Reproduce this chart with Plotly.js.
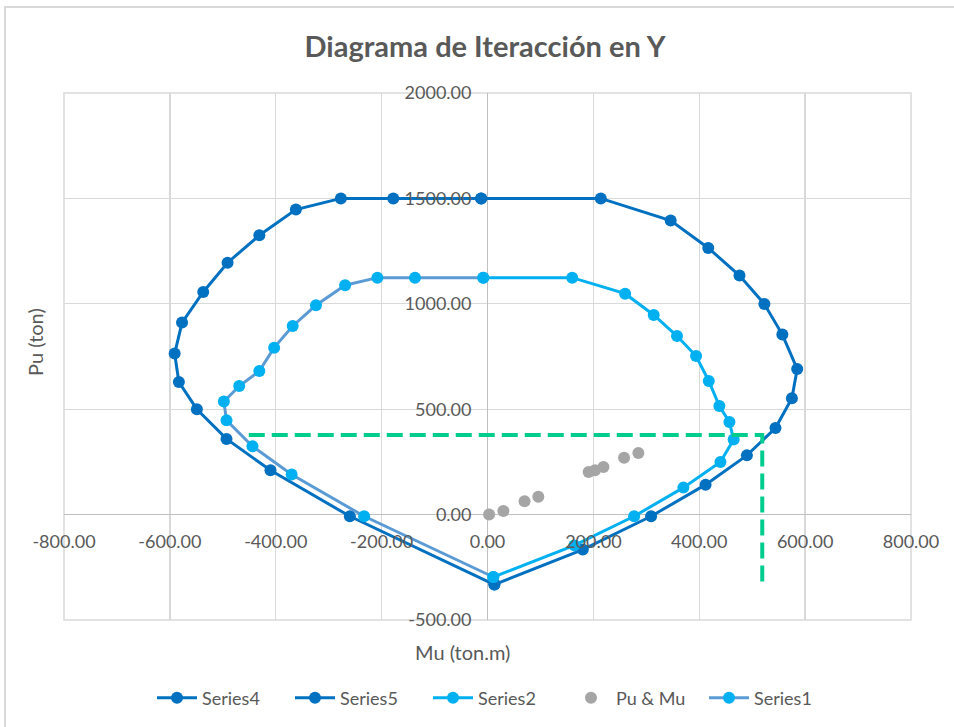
<!DOCTYPE html>
<html>
<head>
<meta charset="utf-8">
<script src="https://cdn.plot.ly/plotly-3.0.1.min.js"></script>
<style>html,body{margin:0;padding:0;background:#fff;}#chart{width:954px;height:727px;}</style>
</head>
<body>
<div id="chart"></div>
<script>
// Outer curve, right half (Series4)
const series4M = [-12, 214, 346, 417, 476, 523, 557, 585, 575, 544, 490, 412, 309, 180, 13];
const series4P = [1500, 1500, 1395, 1265, 1134, 999, 854, 691, 552, 411, 281, 142, -8, -166, -332];
// Outer curve, left half (Series5)
const series5M = [-12, -178, -277, -362, -431, -491, -537, -577, -591, -583, -549, -493, -410, -260, 13];
const series5P = [1500, 1500, 1500, 1447, 1325, 1195, 1056, 911, 764, 629, 500, 359, 210, -8, -332];
// Inner curve, right half (Series2)
const series2M = [-8, 160, 260, 314, 358, 394, 418, 438, 457, 465, 440, 370, 277, 164, 11];
const series2P = [1124, 1124, 1048, 947, 847, 752, 634, 515, 439, 356, 250, 128, -8, -146, -296];
// Inner curve, left half (Series1)
const series1M = [-8, -137, -208, -269, -324, -368, -403, -431, -469, -498, -493, -444, -370, -233, 11];
const series1P = [1124, 1124, 1124, 1088, 993, 895, 792, 681, 610, 536, 447, 324, 190, -8, -296];
// Demand points (Pu & Mu)
const demandM = [3, 30, 70, 96, 191, 203, 219, 258, 285];
const demandP = [0, 17, 63, 85, 202, 210, 226, 270, 292];
// Green guide lines
const guideM = [-451, 519, 519];
const guideP = [378, 378, -343];

const xTicks = [-800, -600, -400, -200, 0, 200, 400, 600, 800];
const yTicks = [-500, 0, 500, 1000, 1500, 2000];

const dark = '#0070C0', cyan = '#00B0F0', steel = '#5B9BD5', gray = '#A5A5A5', green = '#00CC8E';
const txt = '#595959';
const FONT = 'Lato, "Open Sans", sans-serif';

const traces = [
  {x: series4M, y: series4P, name: 'Series4', type: 'scatter', mode: 'lines+markers',
   line: {color: dark, width: 3}, marker: {color: dark, size: 12}},
  {x: series5M, y: series5P, name: 'Series5', type: 'scatter', mode: 'lines+markers',
   line: {color: dark, width: 3}, marker: {color: dark, size: 12}},
  {x: series2M, y: series2P, name: 'Series2', type: 'scatter', mode: 'lines+markers',
   line: {color: cyan, width: 3}, marker: {color: cyan, size: 12}},
  {x: demandM, y: demandP, name: 'Pu & Mu', type: 'scatter', mode: 'markers',
   marker: {color: gray, size: 12}},
  {x: series1M, y: series1P, name: 'Series1', type: 'scatter', mode: 'lines+markers',
   line: {color: steel, width: 3}, marker: {color: cyan, size: 12}},
  {x: guideM, y: guideP, name: 'guide', type: 'scatter', mode: 'lines', showlegend: false,
   line: {color: green, width: 4, dash: '16px,7px'}, hoverinfo: 'skip'}
];

const L = 64, R = 43, T = 93, B = 107;
const pw = 954 - L - R, ph = 727 - T - B;
const px = v => (v - L) / pw;
const py = v => (727 - B - v) / ph;

const layout = {
  width: 954, height: 727,
  margin: {l: L, r: R, t: T, b: B, pad: 0, autoexpand: false},
  paper_bgcolor: '#fff', plot_bgcolor: '#fff',
  font: {family: FONT, color: txt, size: 18},
  title: {text: '<b>Diagrama de Iteracción en Y</b>', font: {family: FONT, size: 29, color: txt},
          x: 485 / 954, xanchor: 'center', xref: 'container', y: 1 - 47 / 727, yanchor: 'middle', yref: 'container'},
  xaxis: {range: [-800, 800], tickvals: xTicks, ticktext: xTicks.map(v => v.toFixed(2)),
          showgrid: true, gridcolor: '#D9D9D9', gridwidth: 1.3,
          zeroline: true, zerolinecolor: '#BFBFBF', zerolinewidth: 1.5,
          showline: false, ticks: '', anchor: 'free', position: 0.2,
          ticklabelstandoff: 14, tickfont: {size: 18, color: txt, family: FONT}},
  yaxis: {range: [-500, 2000], tickvals: yTicks, ticktext: yTicks.map(v => v.toFixed(2)),
          showgrid: true, gridcolor: '#D9D9D9', gridwidth: 1.3,
          zeroline: true, zerolinecolor: '#BFBFBF', zerolinewidth: 1.5,
          showline: false, ticks: '', anchor: 'free', position: 0.5,
          ticklabelstandoff: 16, tickfont: {size: 18, color: txt, family: FONT}},
  showlegend: true,
  legend: {orientation: 'h', x: px(497), xanchor: 'center', y: py(698), yanchor: 'middle',
           font: {size: 18, color: txt, family: FONT}, itemwidth: 40,
           entrywidth: 83, entrywidthmode: 'pixels', traceorder: 'normal', bgcolor: 'rgba(0,0,0,0)'},
  annotations: [
    {text: 'Mu (ton.m)', xref: 'paper', yref: 'paper', x: px(462), y: py(652), showarrow: false,
     xanchor: 'center', yanchor: 'middle', font: {size: 20, color: txt, family: FONT}},
    {text: 'Pu (ton)', xref: 'paper', yref: 'paper', x: px(35), y: py(342), showarrow: false,
     textangle: -90, xanchor: 'center', yanchor: 'middle', font: {size: 20, color: txt, family: FONT}}
  ],
  shapes: [
    {type: 'rect', xref: 'paper', yref: 'paper', x0: 0, x1: 1, y0: 0, y1: 1,
     line: {color: '#D9D9D9', width: 1.5}, fillcolor: 'rgba(0,0,0,0)', layer: 'below'},
    {type: 'rect', xref: 'paper', yref: 'paper', x0: px(5), x1: px(970), y0: py(7), y1: py(740),
     line: {color: '#D9D9D9', width: 2}, fillcolor: 'rgba(0,0,0,0)', layer: 'below'}
  ]
};

Plotly.newPlot('chart', traces, layout, {displayModeBar: false, staticPlot: true});
</script>
</body>
</html>
